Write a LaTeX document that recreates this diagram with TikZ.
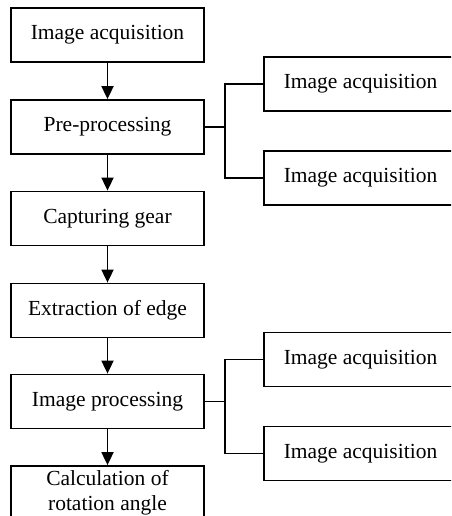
\documentclass[tikz,border=0pt]{standalone}
\usepackage{fontspec}
\setmainfont{Liberation Serif}
\usetikzlibrary{arrows.meta}
\tikzset{
  stepbox/.style={draw, line width=1.8pt, minimum width=193pt, minimum height=54pt,
    align=center, inner sep=0pt, font=\fontsize{21.5}{25}\selectfont},
  flow/.style={line width=1.8pt, -{Triangle[width=12pt,length=13pt]}},
  branch/.style={line width=1.8pt}
}
\begin{document}
\begin{tikzpicture}[x=1pt,y=-1pt]
  \useasboundingbox (0,0) rectangle (451,516);
  \clip (0,0) rectangle (451,516);
  % main column
  \node[stepbox] (acq)  at (107.5,35)  {Image acquisition};
  \node[stepbox] (pre)  at (107.5,127) {Pre-processing};
  \node[stepbox] (gear) at (107.5,218.5) {Capturing gear};
  \node[stepbox] (edge) at (107.5,310.5) {Extraction of edge};
  \node[stepbox] (proc) at (107.5,401.5) {Image processing};
  \node[stepbox] (calc) at (107.5,493) {Calculation of\\rotation angle};
  % side boxes
  \node[stepbox] (preA)  at (360.5,84)    {Image acquisition};
  \node[stepbox] (preB)  at (360.5,178)   {Image acquisition};
  \node[stepbox] (procA) at (360.5,359.5) {Image acquisition};
  \node[stepbox] (procB) at (360.5,453.5) {Image acquisition};
  \foreach \a/\b in {acq/pre, pre/gear, gear/edge, edge/proc, proc/calc}
    \draw[flow] (\a) -- (\b);
  % branches
  \coordinate (preJ) at (225,127);
  \coordinate (procJ) at (225,401.5);
  \draw[branch] (pre.east) -- (preJ);
  \draw[branch] (preA.west) -| (preJ) |- (preB.west);
  \draw[branch] (proc.east) -- (procJ);
  \draw[branch] (procA.west) -| (procJ) |- (procB.west);
\end{tikzpicture}
\end{document}
